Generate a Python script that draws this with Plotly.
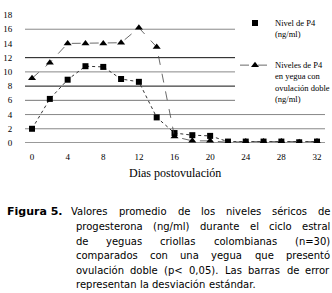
import plotly.graph_objects as go

days = [0, 2, 4, 6, 8, 10, 12, 14, 16, 18, 20, 22, 24, 26, 28, 30, 32]
p4_mean = [2.0, 6.2, 8.9, 10.8, 10.7, 9.0, 8.6, 3.6, 1.4, 1.1, 1.0, 0.2, 0.2, 0.2, 0.2, 0.1, 0.2]
p4_double = [9.1, 11.3, 14.0, 14.0, 14.0, 14.1, 16.2, 13.5, 0.9, 0.3, 0.3, 0.1, 0.2, 0.2, 0.2, 0.1, 0.2]
grid_vals = [0, 2, 4, 6, 8, 10, 12, 16]
grid_cols = ["#333333", "#888888", "#888888", "#777777", "#111111", "#888888", "#111111", "#888888"]
x_ticks = [0, 4, 8, 12, 16, 20, 24, 28, 32]
y_ticks = [0, 2, 4, 6, 8, 10, 12, 14, 16, 18]
name_mean = "Nivel de P4<br>(ng/ml)"
name_double = "Niveles de P4<br>en yegua con<br>ovulación doble<br>(ng/ml)"
x_title = "Dias postovulación"
caption_label = "Figura 5."
caption_lines = [
    "Valores promedio de los niveles séricos de",
    "progesterona (ng/ml) durante el ciclo estral",
    "de yeguas criollas colombianas (n=30)",
    "comparados con una yegua que presentó",
    "ovulación doble (p< 0,05). Las barras de error",
    "representan la desviación estándar.",
]

W, H = 332, 293
L, R, T, B = 25, 7, 15, 150

# approximate DejaVu Sans advance widths (units per em = 2048) for justification
CW = {" ": 651, "a": 1255, "b": 1300, "c": 1126, "d": 1300, "e": 1260, "f": 721, "g": 1300,
      "h": 1298, "i": 569, "j": 569, "k": 1186, "l": 569, "m": 1995, "n": 1298, "o": 1253,
      "p": 1300, "q": 1300, "r": 842, "s": 1067, "t": 803, "u": 1298, "v": 1212, "w": 1675,
      "x": 1212, "y": 1212, "z": 1075, "L": 1141, "V": 1401, "F": 1178, "(": 799, ")": 799,
      "=": 1716, "<": 1716, ",": 651, ".": 651, "/": 690}
ACC = {"á": "a", "é": "e", "í": "i", "ó": "o", "ú": "u"}


def text_w(s, size):
    tot = 0
    for ch in s:
        ch = ACC.get(ch, ch)
        if ch.isdigit():
            tot += 1303
        else:
            tot += CW.get(ch, 1250)
    return tot / 2048 * size


fig = go.Figure()
fig.add_trace(go.Scatter(
    x=days, y=p4_mean, mode="lines", showlegend=False, hoverinfo="skip",
    line=dict(color="#333333", width=1, dash="dot"),
    legendgroup="a",
))
fig.add_trace(go.Scatter(
    x=days, y=p4_mean, mode="markers", name=name_mean,
    marker=dict(symbol="square", size=6, color="black"),
    legendgroup="a",
))
fig.add_trace(go.Scatter(
    x=days, y=p4_double, mode="lines+markers", name=name_double,
    line=dict(color="#444444", width=0.8, dash="dash"),
    marker=dict(symbol="triangle-up", size=7, color="black"),
    legendgroup="b",
))

shapes = []
for v, c in zip(grid_vals, grid_cols):
    shapes.append(dict(type="line", xref="paper", yref="y", x0=0, x1=1, y0=v, y1=v,
                       line=dict(color=c, width=1), layer="below"))


def py(ypx):
    return 1 - (ypx - T) / (H - T - B)


def px(xpx):
    return (xpx - L) / (W - L - R)


ann = [dict(text=x_title, xref="paper", yref="paper", x=px(175), y=py(173),
            showarrow=False, xanchor="center", yanchor="middle",
            font=dict(family="Liberation Serif", size=12, color="black"))]

FS = 10
ann.append(dict(text="<b>" + caption_label + "</b>", xref="paper", yref="paper", x=px(5), y=py(211),
                showarrow=False, xanchor="left", yanchor="middle",
                font=dict(family="DejaVu Sans", size=11, color="black")))
ys = [211, 226, 241, 255, 270, 284]
starts = [69, 74, 74, 74, 74, 74]
right_edge = 328
for i, (t, yy, x0) in enumerate(zip(caption_lines, ys, starts)):
    words = t.split(" ")
    justify = i < len(caption_lines) - 1
    ww = [text_w(w, FS) for w in words]
    nat_space = text_w(" ", FS)
    if justify and len(words) > 1:
        gap = (right_edge - x0 - sum(ww)) / (len(words) - 1)
        gap = max(gap, nat_space * 0.6)
    else:
        gap = nat_space
    x = x0
    for w, wpx in zip(words, ww):
        ann.append(dict(text=w, xref="paper", yref="paper", x=px(x), y=py(yy),
                        showarrow=False, xanchor="left", yanchor="middle",
                        font=dict(family="DejaVu Sans", size=FS, color="black")))
        x += wpx + gap

fig.update_layout(
    width=W, height=H,
    margin=dict(l=L, r=R, t=T, b=B, pad=0, autoexpand=False),
    paper_bgcolor="white", plot_bgcolor="white",
    showlegend=True,
    legend=dict(x=px(235), y=py(11), xanchor="left", yanchor="top",
                bgcolor="white", borderwidth=0, valign="top",
                font=dict(family="Liberation Serif", size=8.5, color="black"),
                tracegroupgap=17, itemwidth=30, traceorder="grouped"),
    xaxis=dict(range=[-0.79, 32.9], tickvals=x_ticks, showgrid=False, zeroline=False,
               showline=False, ticks="outside", ticklen=5, tickcolor="rgba(0,0,0,0)",
               automargin=False,
               tickfont=dict(family="Liberation Serif", size=9, color="black")),
    yaxis=dict(range=[0, 18], tickvals=y_ticks, showgrid=False, zeroline=False,
               showline=False, ticks="outside", ticklen=10, tickcolor="rgba(0,0,0,0)",
               automargin=False,
               tickfont=dict(family="Liberation Serif", size=9, color="black")),
    shapes=shapes, annotations=ann,
)
fig.write_html(
    "out.html",
    config={"displayModeBar": False},
    post_script="document.body.style.margin='0';document.body.style.overflow='hidden';",
)
